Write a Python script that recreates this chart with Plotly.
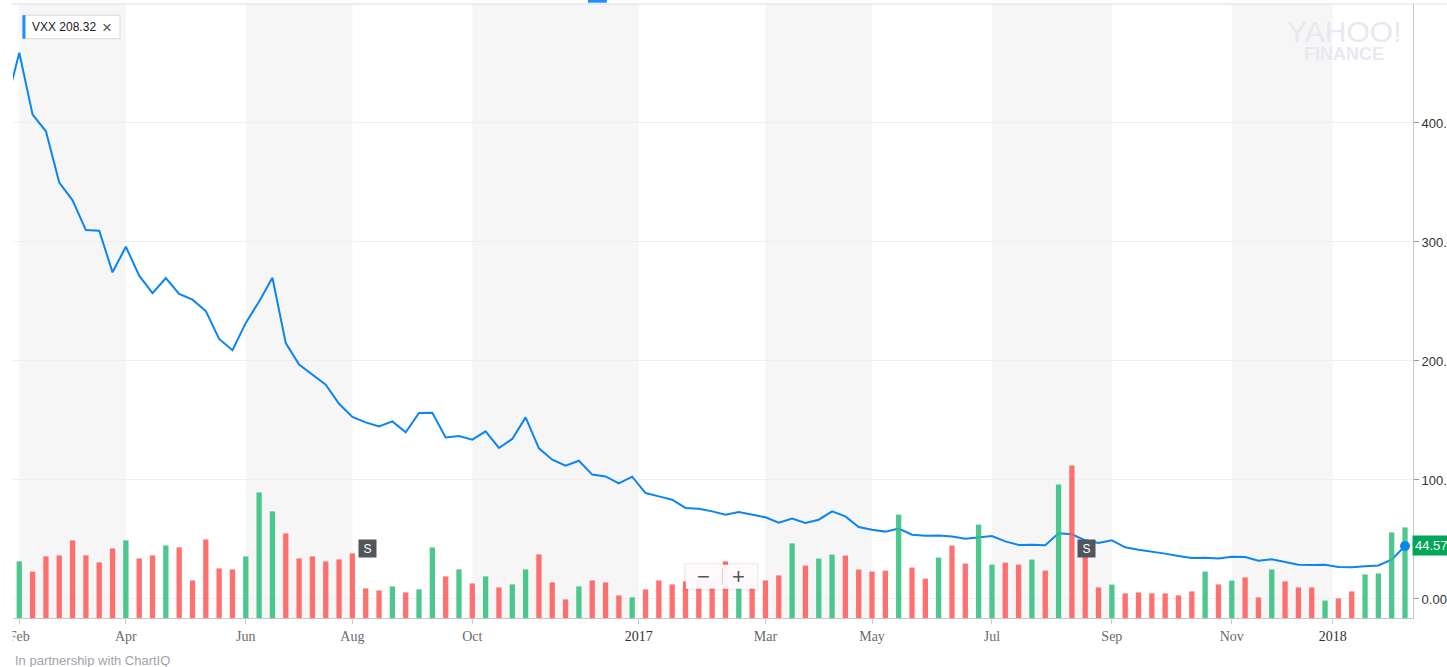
import pandas as pd
import plotly.graph_objects as go

# ---------------- data ----------------
ticker = "VXX"
legend_value = "208.32"
price_dates = pd.date_range("2016-02-01", periods=106, freq="7D")
prices = [415, 459, 407, 393, 350, 335, 310, 309.5, 274.5, 296, 271.7,
          257, 269.7, 256.3, 251.5, 242, 218.5, 209, 232, 250, 270,
          215, 197, 188.5, 180, 164, 153, 148.4, 145, 149.2, 140,
          156.3, 156.4, 135.8, 137, 133.9, 140.8, 126.9, 134.5, 152.6, 126.6,
          117, 112, 116.2, 104.5, 103, 97.1, 102.8, 89, 86.2, 83.4,
          76.5, 75.9, 73.6, 70.8, 73.1, 70.8, 68.6, 64.1, 67.5, 63.9,
          66.6, 73.6, 69.4, 60.5, 58.2, 56.6, 59.1, 54, 53.2, 53.3,
          52.4, 50.7, 51.5, 52.9, 48.4, 45.4, 45.6, 45.2, 55.2, 54.3,
          49.3, 47, 49.3, 43.4, 41.4, 40, 38.1, 36.1, 34.5, 34.7,
          34.1, 35.5, 35.3, 32.2, 33.3, 31.1, 28.8, 28.6, 28.7, 26.9,
          26.6, 27.4, 28.2, 33, 44.57]
vol_dates = price_dates[1:]
volumes = [28.3, 23.2, 30.8, 31.3, 38.8, 31.3, 27.8, 34.8, 38.8, 29.8,
           31.3, 36.3, 35.3, 18.8, 39.3, 24.8, 24.3, 30.8, 62.8, 53.3,
           42.3, 29.8, 30.8, 28.3, 29.3, 32.3, 14.8, 13.8, 15.8, 12.8,
           14.3, 35.3, 20.8, 24.3, 17.3, 20.8, 15.3, 16.8, 24.3, 31.8,
           17.8, 9.3, 15.8, 18.8, 17.8, 11.3, 10.3, 14.3, 18.8, 16.8,
           18.3, 19.0, 18.5, 28.3, 15.0, 17.0, 18.8, 21.3, 37.3, 26.2,
           29.7, 31.7, 31.2, 24.2, 23.2, 23.7, 51.7, 25.2, 19.7, 30.2,
           36.2, 27.2, 46.7, 26.7, 27.7, 26.7, 29.2, 23.7, 66.8, 76.3,
           36.5, 15.3, 16.7, 12.3, 12.8, 12.3, 12.3, 11.3, 13.3, 23.2,
           16.8, 18.7, 20.3, 10.3, 24.3, 18.3, 15.3, 15.3, 8.7, 9.8,
           13.3, 21.8, 22.3, 42.8, 45.3]
vol_up = [1, 0, 0, 0, 0, 0, 0, 0, 1, 0,
          0, 1, 0, 0, 0, 0, 0, 1, 1, 1,
          0, 0, 0, 0, 0, 0, 0, 0, 1, 0,
          1, 1, 0, 1, 0, 1, 0, 1, 1, 0,
          0, 0, 1, 0, 0, 0, 1, 0, 0, 0,
          0, 0, 0, 0, 1, 0, 0, 0, 1, 0,
          1, 1, 0, 0, 0, 0, 1, 0, 0, 1,
          0, 0, 1, 1, 0, 0, 1, 0, 1, 0,
          0, 0, 1, 0, 0, 0, 0, 0, 0, 1,
          0, 1, 0, 0, 1, 0, 0, 0, 1, 0,
          0, 1, 1, 1, 1]
tick_dates = ["2016-02-08", "2016-04-04", "2016-06-06", "2016-08-01",
              "2016-10-03", "2016-12-29 12:00", "2017-03-06", "2017-05-01",
              "2017-07-03", "2017-09-04", "2017-11-06", "2017-12-29"]
tick_labels = ["Feb", "Apr", "Jun", "Aug", "Oct", "2017", "Mar", "May",
               "Jul", "Sep", "Nov", "2018"]
year_labels = {"2017", "2018"}
price_ticks = [0, 100, 200, 300, 400]
split_dates = ["2016-08-08", "2017-08-21"]

# ---------------- styling ----------------
LINE = "#0b85f0"
UP = "#34c17f"
DOWN = "#ff5d5d"
SHADE = "#f6f6f6"

PL, PR, PT, PB = 13, 1413.3, 4.3, 618.3


def px(x):
    return (x - PL) / (PR - PL)


def py(y):
    return (PB - y) / (PB - PT)


fig = go.Figure()
fig.add_trace(go.Scatter(x=price_dates, y=prices, mode="lines",
                         line=dict(color=LINE, width=2), yaxis="y",
                         hoverinfo="skip"))
fig.add_trace(go.Bar(x=vol_dates, y=volumes, yaxis="y2",
                     marker=dict(color=[UP if u else DOWN for u in vol_up],
                                 line=dict(width=0)),
                     opacity=0.88, width=2.78 * 86400000, hoverinfo="skip"))
fig.add_trace(go.Scatter(x=[price_dates[-1]], y=[prices[-1]], mode="markers",
                         marker=dict(color=LINE, size=10), yaxis="y3",
                         hoverinfo="skip"))

shapes = []
for k in range(0, len(tick_dates) - 1, 2):
    shapes.append(dict(type="rect", xref="x", yref="paper",
                       x0=tick_dates[k], x1=tick_dates[k + 1], y0=0, y1=1,
                       fillcolor=SHADE, line=dict(width=0), layer="below"))
# top border line
shapes.append(dict(type="line", xref="paper", yref="paper", x0=px(12), x1=px(1447),
                   y0=1, y1=1, line=dict(color="#dcdde4", width=1), layer="above"))
# top tab indicator
shapes.append(dict(type="rect", xref="paper", yref="paper", x0=px(588), x1=px(607),
                   y0=py(0), y1=py(3), fillcolor="#1f8fff", line=dict(width=0),
                   layer="above"))
# legend box
shapes.append(dict(type="rect", xref="paper", yref="paper", x0=px(22.5), x1=px(120),
                   y0=py(15.5), y1=py(39), fillcolor="white",
                   line=dict(color="#d8d8d8", width=1), layer="above"))
shapes.append(dict(type="rect", xref="paper", yref="paper", x0=px(22.5), x1=px(25.5),
                   y0=py(15.5), y1=py(39), fillcolor="#1f8fff",
                   line=dict(width=0), layer="above"))
# zoom control box
shapes.append(dict(type="rect", xref="paper", yref="paper", x0=px(685), x1=px(758),
                   y0=py(564), y1=py(590), fillcolor="rgba(0,0,0,0)",
                   line=dict(color="rgba(0,0,0,0.06)", width=2), layer="above"))
shapes.append(dict(type="rect", xref="paper", yref="paper", x0=px(686), x1=px(757),
                   y0=py(565), y1=py(589), fillcolor="rgba(253,249,253,0.97)",
                   line=dict(width=0), layer="above"))
shapes.append(dict(type="line", xref="paper", yref="paper", x0=px(722.5), x1=px(722.5),
                   y0=py(568), y1=py(585), line=dict(color="#cfcfcf", width=1),
                   layer="above"))
# clip left part of first tick label like reference
shapes.append(dict(type="rect", xref="paper", yref="paper", x0=px(0), x1=px(12.3),
                   y0=py(620), y1=py(650), fillcolor="white", line=dict(width=0),
                   layer="above"))

annotations = [
    dict(xref="paper", yref="paper", x=px(30.5), y=py(27.5), xanchor="left",
         yanchor="middle", text=f"{ticker} {legend_value}", showarrow=False,
         font=dict(family="Liberation Sans", size=12, color="#1a1a1a")),
    dict(xref="paper", yref="paper", x=px(107.5), y=py(27.5), xanchor="center",
         yanchor="middle", text="×", showarrow=False,
         font=dict(family="Liberation Sans", size=17, color="#555")),
    dict(xref="paper", yref="paper", x=px(1344), y=py(31.5), xanchor="center",
         yanchor="middle", text="YAHOO!", showarrow=False,
         font=dict(family="Liberation Sans", size=30, color="#e7e9f0")),
    dict(xref="paper", yref="paper", x=px(1344), y=py(54), xanchor="center",
         yanchor="middle", text="<b>FINANCE</b>", showarrow=False,
         font=dict(family="Liberation Sans", size=18, color="#e7e9f0")),
    dict(xref="paper", yref="paper", x=px(703.5), y=py(576.5), xanchor="center",
         yanchor="middle", text="−", showarrow=False,
         font=dict(family="Liberation Sans", size=22, color="#555")),
    dict(xref="paper", yref="paper", x=px(738.5), y=py(576.5), xanchor="center",
         yanchor="middle", text="+", showarrow=False,
         font=dict(family="Liberation Sans", size=22, color="#555")),
    dict(xref="paper", yref="y", x=1, y=prices[-1], xanchor="left",
         yanchor="middle", text=f"{prices[-1]:.2f}", showarrow=False,
         bgcolor="#00a65a", borderpad=2, xshift=-1,
         font=dict(family="Liberation Sans", size=13, color="white")),
    dict(xref="paper", yref="paper", x=px(13), y=py(660.5), xanchor="left",
         yanchor="middle", text="In partnership with ChartIQ", showarrow=False,
         font=dict(family="Liberation Sans", size=13, color="#9ea3ab")),
]
for d in split_dates:
    annotations.append(dict(xref="x", yref="paper", x=d, y=py(548.5),
                            xanchor="center", yanchor="middle", xshift=1.5,
                            text="S", showarrow=False, bgcolor="#51565d",
                            width=13, height=13, borderpad=2,
                            font=dict(family="Liberation Sans", size=12,
                                      color="white")))

ticktext = [f"<span style='color:#333'>{t}</span>" if t in year_labels else t
            for t in tick_labels]

x_lo = pd.Timestamp(vol_dates[0]) - pd.Timedelta(days=3.3)
x_hi = pd.Timestamp(vol_dates[-1]) + pd.Timedelta(days=4.2)

fig.update_layout(
    width=1447, height=667,
    margin=dict(l=PL, r=1447 - PR, t=PT, b=667 - PB, autoexpand=False),
    paper_bgcolor="white", plot_bgcolor="white", showlegend=False,
    shapes=shapes, annotations=annotations,
    xaxis=dict(type="date", range=[x_lo, x_hi], tickvals=tick_dates,
               ticktext=ticktext, ticks="outside", ticklen=5,
               tickcolor="#cccccc", showline=True, linecolor="#c8c8c8",
               linewidth=1, showgrid=False, zeroline=False, automargin=False,
               tickfont=dict(family="Liberation Serif", size=14, color="#6b6b6b")),
    yaxis=dict(side="right", range=[-16, 500], tickvals=price_ticks,
               ticktext=[f"{v:.2f}" for v in price_ticks], ticks="outside",
               ticklen=5, tickcolor="#999999", showline=True,
               linecolor="#c8c8c8", linewidth=1, gridcolor="#efeff1",
               zeroline=False, automargin=False,
               tickfont=dict(family="Liberation Sans", size=13, color="#333")),
    yaxis2=dict(overlaying="y", range=[0, 307], visible=False),
    yaxis3=dict(overlaying="y", range=[-16, 500], visible=False),
)

fig.write_html("out.html", config={"displayModeBar": False},
               post_script="document.body.style.margin='0';")
